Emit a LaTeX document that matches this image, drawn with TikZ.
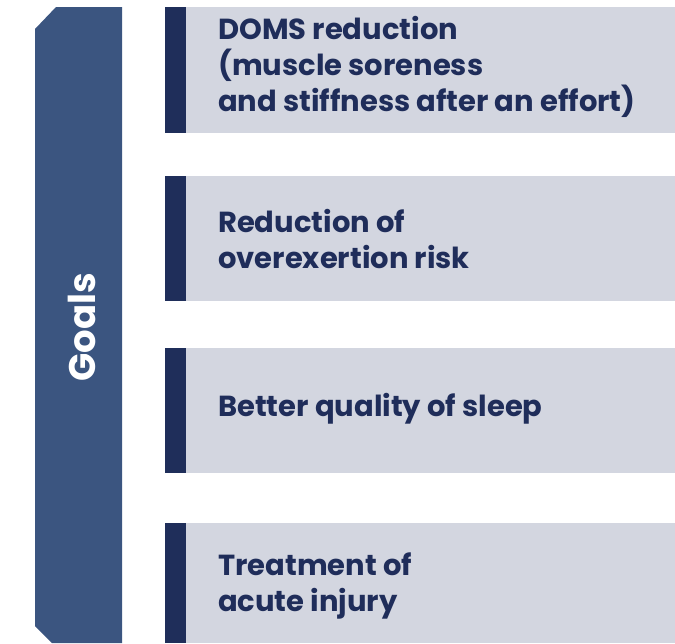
\documentclass[tikz,border=0pt]{standalone}
\usepackage{fontspec}
\setmainfont{Poppins}[BoldFont={* Bold}]
\definecolor{bannerblue}{HTML}{3B5580}
\definecolor{barblue}{HTML}{1F2E5A}
\definecolor{boxgray}{HTML}{D3D6E0}
\definecolor{txtblue}{HTML}{1F2D5A}
\tikzset{
  lightbox/.style={fill=boxgray, draw=none},
  barbox/.style={fill=barblue, draw=none},
  itemtext/.style={anchor=base west, inner sep=0pt, text=txtblue, font=\fontsize{29}{36}\selectfont\bfseries, align=left},
}
\begin{document}
\begin{tikzpicture}[x=1pt,y=-1pt]
\useasboundingbox (0,0) rectangle (675,643);
% banner
\fill[bannerblue] (35,29) -- (56,7) -- (122,7) -- (122,643) -- (52,643) -- (35,626) -- cycle;
\node (goals) [rotate=90, anchor=base, inner sep=0pt, text=white, font=\fontsize{37}{40}\selectfont\bfseries] at (95,327) {Goals};
% boxes
\foreach \n/\ya/\yb in {1/7/133, 2/176/301, 3/348/473, 4/523/643} {
  \fill[boxgray] (186,\ya) rectangle (675,\yb);
  \fill[barblue] (165,\ya) rectangle (186,\yb);
}
% base anchor = baseline of the last line
\node (t1) [itemtext] at (218,111) {DOMS reduction\\(muscle soreness\\and stiffness after an effort)};
\node (t2) [itemtext] at (218,268) {Reduction of\\overexertion risk};
\node (t3) [itemtext] at (218,416) {Better quality of sleep};
\node (t4) [itemtext] at (218,611) {Treatment of\\acute injury};
\end{tikzpicture}
\end{document}
